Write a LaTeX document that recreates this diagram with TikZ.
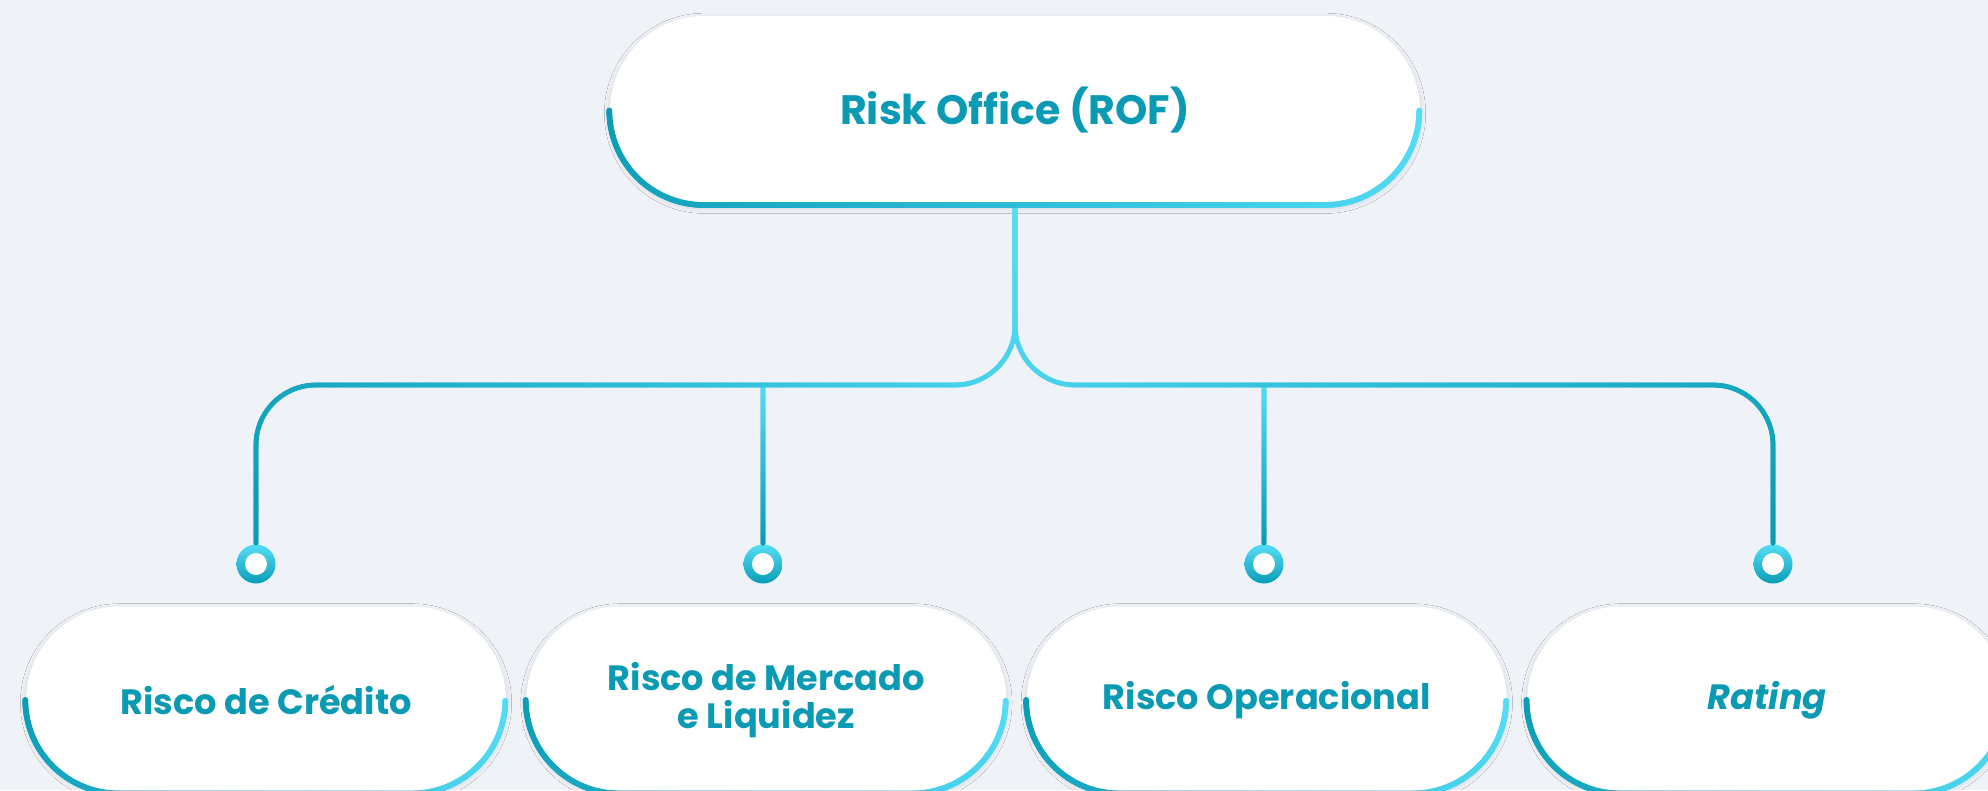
\documentclass[tikz,border=0pt]{standalone}
\usepackage{fontspec}
\setmainfont{Poppins}
\usetikzlibrary{positioning}
\usetikzlibrary{shapes.misc}
\usetikzlibrary{decorations.markings}
\usetikzlibrary{shadows.blur}
\definecolor{rofteal}{HTML}{0A9CB6}
\definecolor{roflight}{HTML}{55DDF7}
\definecolor{roftext}{HTML}{0A9AB4}
\definecolor{rofbg}{HTML}{EFF3F8}
\tikzset{
  box/.style={rounded rectangle, fill=white, text=roftext, align=center,
    font=\bfseries\fontsize{10}{11}\selectfont, inner sep=0pt,
    minimum width=4.80cm, minimum height=1.87cm,
    blur shadow={shadow xshift=0pt, shadow yshift=-0.8pt, shadow blur radius=1.6pt, shadow blur steps=8, shadow opacity=14}},
  dot/.style={circle, inner sep=0pt, minimum size=0.39cm, top color=roflight, bottom color=rofteal,
    path picture={\fill[white] (path picture bounding box.center) circle (0.11cm);}},
  grad/.style n args={3}{postaction={decorate, decoration={markings,
    mark=between positions 0 and 1 step 0.3pt with {
      \pgfmathsetmacro\gradpct{min(100,100*(\pgfkeysvalueof{/pgf/decoration/mark info/distance from start}/\pgfdecoratedpathlength))}
      \pgfsetfillcolor{#2!\gradpct!#1}
      \pgfpathcircle{\pgfpointorigin}{#3}
      \pgfusepath{fill}}}}}
}
% accent along the lower half of a box: node, radius, flat part
\newcommand{\accentarc}[3]{\path[grad={rofteal}{roflight}{0.85pt}] (#1.west) arc[start angle=180, end angle=270, radius=#2] -- ++(#3,0) arc[start angle=270, end angle=360, radius=#2];}

\begin{document}
\begin{tikzpicture}
  \useasboundingbox[fill=rofbg] (0,0) rectangle (19.88,7.90);

  \node[box, minimum width=8.10cm, minimum height=1.89cm, font=\bfseries\fontsize{11.7}{13}\selectfont] (rof) at (10.15,6.795) {Risk Office (ROF)};
  \node[box] (credito) at (2.66,0.90) {Risco de Crédito};
  \node[box, right=0.19cm of credito] (mercado) {Risco de Mercado\\e Liquidez};
  \node[box, right=0.19cm of mercado] (operacional) {Risco Operacional};
  \node[box, right=0.19cm of operacional] (rating) {\textit{Rating}};

  \node[dot] (d1) at (2.56,2.26) {};
  \node[dot] (d2) at (7.63,2.26) {};
  \node[dot] (d3) at (12.64,2.26) {};
  \node[dot] (d4) at (17.73,2.26) {};
  \coordinate (bus) at (10.15,4.05);

  % branches
  \path[grad={roflight}{rofteal}{0.72pt}] (d2.north |- bus) -- (d2.north);
  \path[grad={roflight}{rofteal}{0.72pt}] (d3.north |- bus) -- (d3.north);
  \path[grad={roflight}{rofteal}{0.72pt}, rounded corners=0.6cm] (rof.south) -- (bus) -- (d1.north |- bus) -- (d1.north);
  \path[grad={roflight}{rofteal}{0.72pt}, rounded corners=0.6cm] (rof.south) -- (bus) -- (d4.north |- bus) -- (d4.north);

  % accents
  \accentarc{rof}{0.945}{6.21}
  \accentarc{credito}{0.935}{2.93}
  \accentarc{mercado}{0.935}{2.93}
  \accentarc{operacional}{0.935}{2.93}
  \accentarc{rating}{0.935}{2.93}
\end{tikzpicture}
\end{document}
